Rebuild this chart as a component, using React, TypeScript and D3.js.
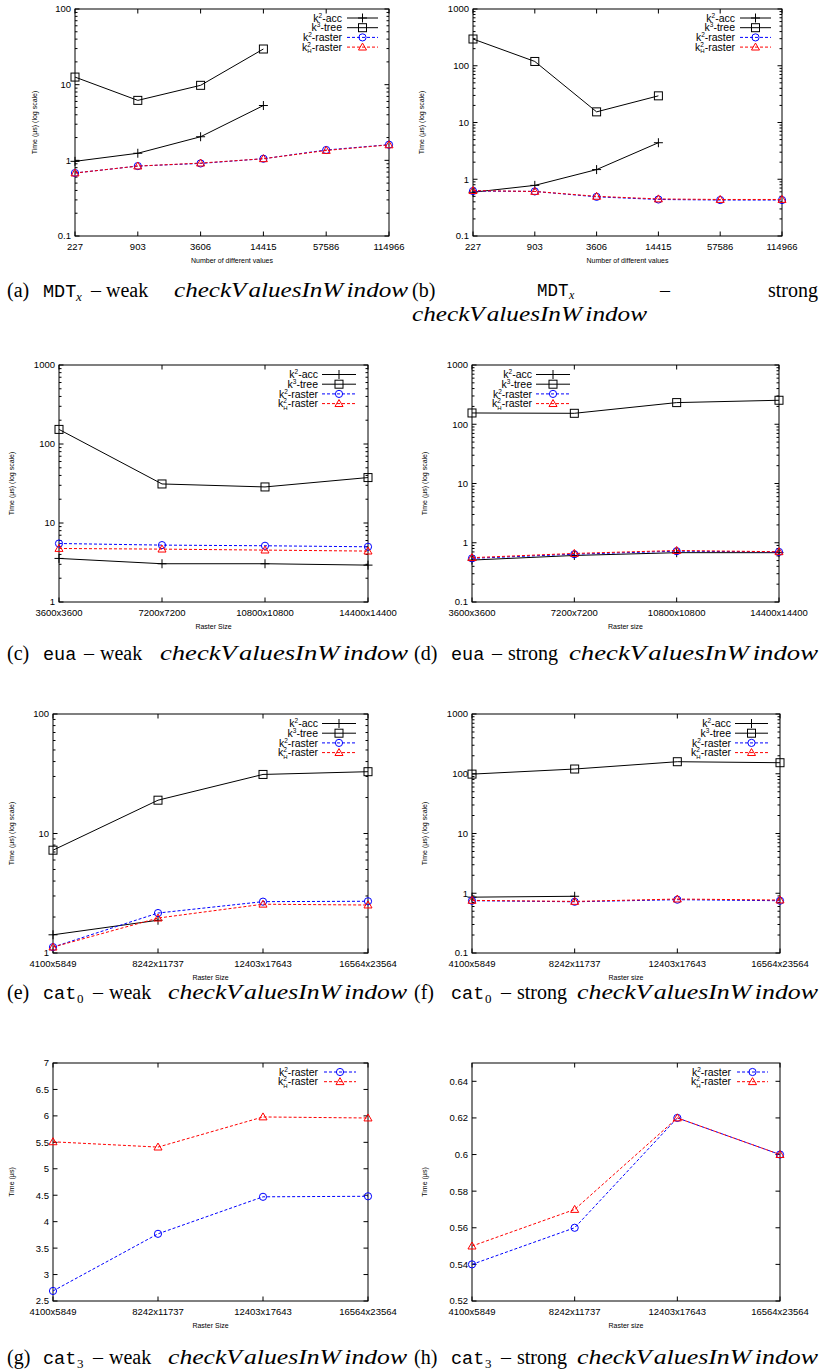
import React from "react";
import * as d3 from "d3";

// x categories
const mdtValues = ["227", "903", "3606", "14415", "57586", "114966"];
const euaSizes = ["3600x3600", "7200x7200", "10800x10800", "14400x14400"];
const catSizes = ["4100x5849", "8242x11737", "12403x17643", "16564x23564"];

// y tick labels
const ticksA = ["0.1", "1", "10", "100"];
const ticksB = ["0.1", "1", "10", "100", "1000"];
const ticksC = ["1", "10", "100", "1000"];
const ticksE = ["1", "10", "100"];
const ticksG = ["2.5", "3", "3.5", "4", "4.5", "5", "5.5", "6", "6.5", "7"];
const ticksH = ["0.52", "0.54", "0.56", "0.58", "0.6", "0.62", "0.64"];

// (a) MDT weak
const accA = [0.97, 1.24, 2.05, 5.3];
const treeA = [12.6, 6.2, 9.8, 29.6];
const rasterA = [0.68, 0.84, 0.91, 1.05, 1.37, 1.61];
const hRasterA = [0.68, 0.84, 0.92, 1.05, 1.35, 1.6];
// (b) MDT strong
const accB = [0.59, 0.78, 1.48, 4.4];
const treeB = [296, 119, 15.4, 29.5];
const rasterB = [0.62, 0.61, 0.49, 0.44, 0.43, 0.43];
const hRasterB = [0.63, 0.61, 0.5, 0.45, 0.44, 0.44];
// (c) eua weak
const accC = [3.56, 3.05, 3.05, 2.93];
const treeC = [153, 31.2, 28.6, 37.6];
const rasterC = [5.5, 5.25, 5.15, 5.0];
const hRasterC = [4.76, 4.67, 4.54, 4.41];
// (d) eua strong
const accD = [0.51, 0.61, 0.68, 0.68];
const treeD = [155, 153, 232, 254];
const rasterD = [0.545, 0.64, 0.72, 0.7];
const hRasterD = [0.56, 0.66, 0.74, 0.705];
// (e) cat0 weak
const accE = [1.42, 1.88];
const treeE = [7.25, 19.0, 31.2, 32.9];
const rasterE = [1.12, 2.16, 2.69, 2.71];
const hRasterE = [1.12, 1.96, 2.56, 2.52];
// (f) cat0 strong
const accF = [0.86, 0.89];
const treeF = [98.6, 120, 159, 153];
const rasterF = [0.75, 0.72, 0.78, 0.75];
const hRasterF = [0.76, 0.73, 0.8, 0.77];
// (g) cat3 weak
const rasterG = [2.69, 3.77, 4.47, 4.48];
const hRasterG = [5.51, 5.41, 5.98, 5.96];
// (h) cat3 strong
const rasterH = [0.54, 0.56, 0.62, 0.6];
const hRasterH = [0.55, 0.57, 0.62, 0.6];

const SANS = "Liberation Sans, Arial, sans-serif";
const SERIF = "Liberation Serif, Times New Roman, serif";
const MONO = "Liberation Mono, DejaVu Sans Mono, monospace";

const styles = {
  acc: { color: "#000", dash: null, width: 1 },
  tree: { color: "#000", dash: null, width: 1 },
  raster: { color: "#0000ff", dash: "3,2", width: 1 },
  hraster: { color: "#ff0000", dash: "3,2", width: 1 },
};

function Marker({ kind, cx, cy }) {
  const c = styles[kind].color;
  if (kind === "acc")
    return <path d={`M${cx - 4.5},${cy}h9M${cx},${cy - 4.5}v9`} stroke={c} fill="none" strokeWidth={1} />;
  if (kind === "tree")
    return <rect x={cx - 4} y={cy - 4} width={8} height={8} stroke={c} fill="none" strokeWidth={1} />;
  if (kind === "raster") return <circle cx={cx} cy={cy} r={3.6} stroke={c} fill="none" strokeWidth={1} />;
  const tri = d3.symbol().type(d3.symbolTriangle).size(28)();
  return <path d={tri} transform={`translate(${cx},${cy + 0.6})`} stroke={c} fill="none" strokeWidth={1} />;
}

function LegendLabel({ kind, x, y }) {
  const sup = kind === "tree" ? "3" : "2";
  const sub = kind === "raster" ? "-" : kind === "hraster" ? "H" : null;
  const rest = kind === "acc" ? "-acc" : kind === "tree" ? "-tree" : "-raster";
  return (
    <text x={x} y={y} textAnchor="end" fontSize={10.5} fontFamily={SANS}>
      k
      <tspan fontSize={6.5} dy={-4}>{sup}</tspan>
      {sub && (
        <tspan fontSize={6} dx={-3.6} dy={6.5}>
          {sub}
        </tspan>
      )}
      <tspan dx={sub === "-" ? 1.4 : 0} dy={sub ? -2.5 : 4}>
        {rest}
      </tspan>
    </text>
  );
}

function Panel({ cfg }) {
  const { box, cats, log, domain, ticks, series, legend, xTitle, yTitle, titleX } = cfg;
  const x = d3.scalePoint().domain(cats).range([box.l, box.r]).padding(0);
  const y = (log ? d3.scaleLog() : d3.scaleLinear()).domain(domain).range([box.b, box.t]);

  const minor = [];
  if (log) {
    for (let d = domain[0]; d < domain[1]; d *= 10) {
      for (let k = 2; k <= 9; k++) minor.push(k * d);
    }
  }

  const line = (vals) =>
    d3
      .line()
      .x((_, i) => x(cats[i]))
      .y((v) => y(v))(vals);

  const yMid = (box.t + box.b) / 2;

  return (
    <g>
      {/* frame */}
      <rect x={box.l} y={box.t} width={box.r - box.l} height={box.b - box.t} fill="none" stroke="#000" strokeWidth={1} />

      {/* y ticks */}
      {ticks.map((t) => {
        const yy = y(+t);
        return (
          <g key={t}>
            <line x1={box.l} x2={box.l + 4.5} y1={yy} y2={yy} stroke="#000" />
            <line x1={box.r} x2={box.r - 4.5} y1={yy} y2={yy} stroke="#000" />
            <text x={box.l - 4} y={yy + 3.4} textAnchor="end" fontSize={9.5} fontFamily={SANS}>
              {t}
            </text>
          </g>
        );
      })}
      {minor.map((m, i) => {
        const yy = y(m);
        return (
          <g key={"m" + i}>
            <line x1={box.l} x2={box.l + 2.5} y1={yy} y2={yy} stroke="#000" />
            <line x1={box.r} x2={box.r - 2.5} y1={yy} y2={yy} stroke="#000" />
          </g>
        );
      })}

      {/* x ticks */}
      {cats.map((c) => {
        const xx = x(c);
        return (
          <g key={c}>
            <line x1={xx} x2={xx} y1={box.b} y2={box.b - 4.5} stroke="#000" />
            <line x1={xx} x2={xx} y1={box.t} y2={box.t + 4.5} stroke="#000" />
            <text x={xx} y={box.b + 13.5} textAnchor="middle" fontSize={9.5} fontFamily={SANS}>
              {c}
            </text>
          </g>
        );
      })}

      {/* axis titles */}
      <text x={(box.l + box.r) / 2} y={box.b + 27} textAnchor="middle" fontSize={7} fontFamily={SANS}>
        {xTitle}
      </text>
      <text
        transform={`translate(${titleX},${yMid}) rotate(-90)`}
        textAnchor="middle"
        fontSize={7}
        fontFamily={SANS}
      >
        {yTitle}
      </text>

      {/* series */}
      {series.map((s) => (
        <g key={s.kind}>
          <path
            d={line(s.values)}
            fill="none"
            stroke={styles[s.kind].color}
            strokeWidth={styles[s.kind].width}
            strokeDasharray={styles[s.kind].dash || undefined}
          />
          {s.values.map((v, i) => (
            <Marker key={i} kind={s.kind} cx={x(cats[i])} cy={y(v)} />
          ))}
        </g>
      ))}

      {/* legend */}
      {series.map((s, i) => {
        const ly = legend.y + i * 9.7;
        const st = styles[s.kind];
        return (
          <g key={"l" + s.kind}>
            <LegendLabel kind={s.kind} x={legend.text} y={ly + 3.6} />
            <line
              x1={legend.x0}
              x2={legend.x1}
              y1={ly}
              y2={ly}
              stroke={st.color}
              strokeDasharray={st.dash || undefined}
            />
            <Marker kind={s.kind} cx={(legend.x0 + legend.x1) / 2} cy={ly} />
          </g>
        );
      })}
    </g>
  );
}

function Italic({ x0, x1, y }) {
  return (
    <text
      x={x0}
      y={y}
      fontFamily={SERIF}
      fontStyle="italic"
      fontSize={21}
      textLength={x1 - x0}
      lengthAdjust="spacingAndGlyphs"
    >
      checkV<tspan dx={4}>aluesInW</tspan>
      <tspan dx={4}>indow</tspan>
    </text>
  );
}

function Caption({ pos, y, tag, ds, sub, mode }) {
  return (
    <g fontFamily={SERIF} fontSize={20}>
      <text x={pos.tag} y={y}>{`(${tag})`}</text>
      <text x={pos.ds} y={y} fontFamily={MONO} fontSize={18.5}>
        {ds}
      </text>
      {sub && (
        <text x={pos.sub} y={y + 3.5} fontSize={13} fontStyle={sub === "x" ? "italic" : "normal"}>
          {sub}
        </text>
      )}
      <text x={pos.dash} y={y}>{"\u2013"}</text>
      <text x={pos.mode} y={y}>{mode}</text>
      <Italic x0={pos.it0} x1={pos.it1} y={y} />
    </g>
  );
}

const fourSeries = (acc, tree, raster, hraster) => [
  { kind: "acc", values: acc },
  { kind: "tree", values: tree },
  { kind: "raster", values: raster },
  { kind: "hraster", values: hraster },
];

const logTitle = "Time (\u00b5s) (log scale)";

const panels = [
  {
    box: { l: 75, r: 389, t: 9, b: 236 },
    cats: mdtValues, log: true, domain: [0.1, 100], ticks: ticksA,
    series: fourSeries(accA, treeA, rasterA, hRasterA),
    legend: { text: 342, x0: 347, x1: 378, y: 18 },
    xTitle: "Number of different values", yTitle: logTitle, titleX: 37,
  },
  {
    box: { l: 473, r: 782, t: 9, b: 236 },
    cats: mdtValues, log: true, domain: [0.1, 1000], ticks: ticksB,
    series: fourSeries(accB, treeB, rasterB, hRasterB),
    legend: { text: 735, x0: 740, x1: 771, y: 18 },
    xTitle: "Number of different values", yTitle: logTitle, titleX: 424,
  },
  {
    box: { l: 59, r: 368, t: 365, b: 602 },
    cats: euaSizes, log: true, domain: [1, 1000], ticks: ticksC,
    series: fourSeries(accC, treeC, rasterC, hRasterC),
    legend: { text: 318, x0: 322, x1: 356, y: 374.5 },
    xTitle: "Raster Size", yTitle: logTitle, titleX: 14,
  },
  {
    box: { l: 472, r: 779, t: 365, b: 602 },
    cats: euaSizes, log: true, domain: [0.1, 1000], ticks: ticksB,
    series: fourSeries(accD, treeD, rasterD, hRasterD),
    legend: { text: 532, x0: 536, x1: 570, y: 374.5 },
    xTitle: "Raster size", yTitle: logTitle, titleX: 427,
  },
  {
    box: { l: 53, r: 368, t: 714, b: 953 },
    cats: catSizes, log: true, domain: [1, 100], ticks: ticksE,
    series: fourSeries(accE, treeE, rasterE, hRasterE),
    legend: { text: 318, x0: 322, x1: 356, y: 723.5 },
    xTitle: "Raster Size", yTitle: logTitle, titleX: 14,
  },
  {
    box: { l: 472, r: 780, t: 714, b: 953 },
    cats: catSizes, log: true, domain: [0.1, 1000], ticks: ticksB,
    series: fourSeries(accF, treeF, rasterF, hRasterF),
    legend: { text: 731, x0: 735, x1: 768, y: 723.5 },
    xTitle: "Raster size", yTitle: logTitle, titleX: 427,
  },
  {
    box: { l: 53, r: 368, t: 1063, b: 1301 },
    cats: catSizes, log: false, domain: [2.5, 7], ticks: ticksG,
    series: [
      { kind: "raster", values: rasterG },
      { kind: "hraster", values: hRasterG },
    ],
    legend: { text: 318, x0: 324, x1: 356, y: 1072 },
    xTitle: "Raster Size", yTitle: "Time (\u00b5s)", titleX: 14,
  },
  {
    box: { l: 472, r: 780, t: 1063, b: 1301 },
    cats: catSizes, log: false, domain: [0.52, 0.65], ticks: ticksH,
    series: [
      { kind: "raster", values: rasterH },
      { kind: "hraster", values: hRasterH },
    ],
    legend: { text: 731, x0: 737, x1: 768, y: 1072 },
    xTitle: "Raster size", yTitle: "Time (\u00b5s)", titleX: 427,
  },
];

// caption piece positions
const mdtWeakPos = { tag: 7, ds: 43, sub: 76, dash: 91, mode: 106, it0: 174, it1: 408 };
const euaWeakPos = { tag: 7, ds: 43, sub: 0, dash: 84, mode: 100, it0: 160, it1: 408 };
const catWeakPos = { tag: 7, ds: 43, sub: 77, dash: 93, mode: 109, it0: 168, it1: 407 };
const euaStrongPos = { tag: 414, ds: 451, sub: 0, dash: 492, mode: 508, it0: 569, it1: 818 };
const catStrongPos = { tag: 414, ds: 451, sub: 485, dash: 501, mode: 517, it0: 577, it1: 818 };

export default function App() {
  return (
    <svg
      width={820}
      height={1372}
      style={{ position: "absolute", left: 0, top: 0, background: "#fff" }}
    >
      {panels.map((p, i) => (
        <Panel key={i} cfg={p} />
      ))}

      {/* captions */}
      <Caption pos={mdtWeakPos} y={297} tag="a" ds="MDT" sub="x" mode="weak" />
      <g fontFamily={SERIF} fontSize={20}>
        <text x={412} y={297}>(b)</text>
        <text x={537} y={296} fontFamily={MONO} fontSize={17.5}>MDT</text>
        <text x={569} y={299} fontSize={12} fontStyle="italic">x</text>
        <text x={660} y={297}>{"\u2013"}</text>
        <text x={818} y={297} textAnchor="end">strong</text>
        <Italic x0={412} x1={647} y={321} />
      </g>
      <Caption pos={euaWeakPos} y={660} tag="c" ds="eua" sub="" mode="weak" />
      <Caption pos={euaStrongPos} y={660} tag="d" ds="eua" sub="" mode="strong" />
      <Caption pos={catWeakPos} y={999} tag="e" ds="cat" sub="0" mode="weak" />
      <Caption pos={catStrongPos} y={999} tag="f" ds="cat" sub="0" mode="strong" />
      <Caption pos={catWeakPos} y={1364} tag="g" ds="cat" sub="3" mode="weak" />
      <Caption pos={catStrongPos} y={1364} tag="h" ds="cat" sub="3" mode="strong" />
    </svg>
  );
}
